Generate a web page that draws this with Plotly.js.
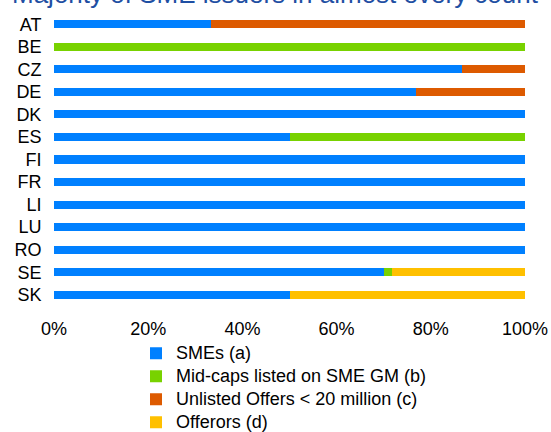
<!DOCTYPE html>
<html>
<head>
<meta charset="utf-8">
<script src="https://cdn.plot.ly/plotly-3.0.1.min.js"></script>
<style>
  html, body { margin: 0; padding: 0; background: #ffffff; }
  #chart { width: 551px; height: 432px; }
</style>
</head>
<body>
<div id="chart"></div>
<script>
// ---- Data ----
const countries = ['AT', 'BE', 'CZ', 'DE', 'DK', 'ES', 'FI', 'FR', 'LI', 'LU', 'RO', 'SE', 'SK'];
const smes      = [33.3, 0, 86.7, 76.9, 100, 50, 100, 100, 100, 100, 100, 70.0, 50];
const midCaps   = [0, 100, 0, 0, 0, 50, 0, 0, 0, 0, 0, 1.7, 0];
const unlisted  = [66.7, 0, 13.3, 23.1, 0, 0, 0, 0, 0, 0, 0, 0, 0];
const offerors  = [0, 0, 0, 0, 0, 0, 0, 0, 0, 0, 0, 28.3, 50];
const seriesNames = ['SMEs (a)', 'Mid-caps listed on SME GM (b)', 'Unlisted Offers < 20 million (c)', 'Offerors (d)'];
const xTickVals = [0, 20, 40, 60, 80, 100];
const xTickText = ['0%', '20%', '40%', '60%', '80%', '100%'];
const titleText = 'Majority of SME issuers in almost every count';

// ---- Styles ----
const colors = ['#0080FF', '#78D200', '#DD5A00', '#FFC000'];
const FONT = 'Arial, "Liberation Sans", sans-serif';

const seriesValues = [smes, midCaps, unlisted, offerors];
const traces = seriesValues.map((vals, i) => ({
  type: 'bar',
  orientation: 'h',
  name: '<span style="font-size:18px">' + seriesNames[i] + '</span>',
  y: countries,
  x: vals,
  width: 0.36,
  marker: { color: colors[i], line: { width: 0 } },
  hoverinfo: 'skip'
}));

const layout = {
  width: 551,
  height: 432,
  barmode: 'stack',
  paper_bgcolor: '#ffffff',
  plot_bgcolor: '#ffffff',
  font: { family: FONT, size: 18, color: '#000000' },
  margin: { l: 54, r: 26, t: 12.7, b: 125.7, pad: 0, autoexpand: false },
  title: {
    text: titleText,
    font: { family: FONT, size: 26, color: '#1F4FA3' },
    xref: 'container', yref: 'container',
    x: 12 / 551, xanchor: 'left',
    y: 1 - 3 / 432, yanchor: 'bottom',
    pad: { t: 0, b: 0, l: 0, r: 0 }
  },
  xaxis: {
    range: [0, 100],
    tickmode: 'array',
    tickvals: xTickVals,
    ticktext: xTickText,
    ticks: 'outside',
    ticklen: 6,
    tickcolor: 'rgba(0,0,0,0)',
    showgrid: false,
    zeroline: false,
    showline: false,
    tickfont: { size: 18, family: FONT }
  },
  yaxis: {
    type: 'category',
    autorange: 'reversed',
    ticks: 'outside',
    ticklen: 8,
    tickcolor: 'rgba(0,0,0,0)',
    showgrid: false,
    zeroline: false,
    showline: false,
    tickfont: { size: 18, family: FONT }
  },
  showlegend: true,
  legend: {
    orientation: 'v',
    traceorder: 'normal',
    font: { family: FONT, size: 15.4, color: '#000000' },
    x: (136 - 54) / 471, xanchor: 'left', xref: 'paper',
    y: (306.3 - 337) / 293.6, yanchor: 'top', yref: 'paper',
    bgcolor: 'rgba(0,0,0,0)',
    borderwidth: 0
  }
};

Plotly.newPlot('chart', traces, layout, { staticPlot: true, displayModeBar: false });
</script>
</body>
</html>
